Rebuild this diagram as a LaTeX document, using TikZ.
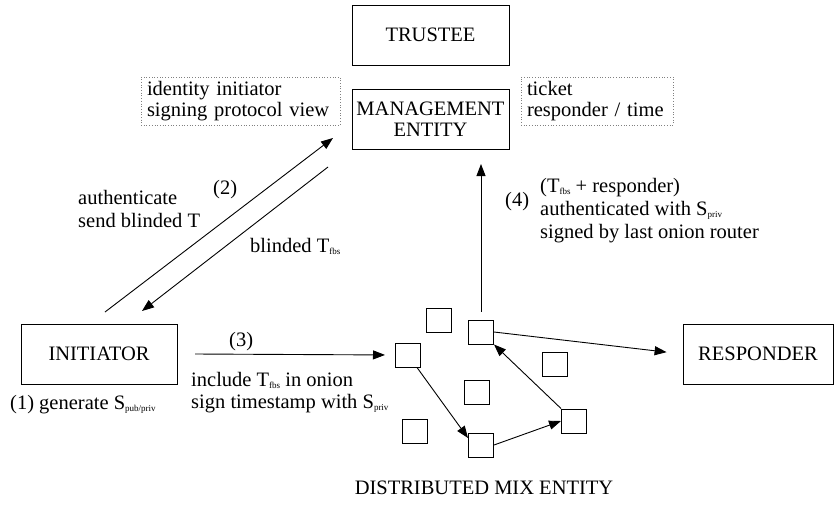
\documentclass[tikz,border=0pt]{standalone}
\usepackage{fontspec}
\setmainfont{Liberation Serif}
\usetikzlibrary{arrows.meta}
\newcommand\sbx[1]{\raisebox{-2.5pt}{\fontsize{9}{9}\selectfont #1}}
\begin{document}
\begin{tikzpicture}[x=1pt,y=-1pt,
  every node/.style={font=\fontsize{20.5}{20.5}\selectfont, inner sep=0pt},
  box/.style={draw, line width=1pt, minimum width=157pt, minimum height=60pt, align=center},
  note/.style={draw=gray, dotted, line width=0.7pt, text=black, align=left, minimum height=48pt, inner xsep=6pt},
  mix/.style={draw, line width=1pt, minimum width=25pt, minimum height=24pt},
  arr/.style={line width=0.9pt, -{Triangle[length=12pt,width=9pt]}},
  lbl/.style={anchor=base west}
]
\useasboundingbox (0,0) rectangle (835,504);

% main boxes
\node[box] (trustee) at (430.5,35) {TRUSTEE};
\node[box] (mgmt) at (430.5,119) {MANAGEMENT\\ENTITY};
\node[box, minimum width=156pt] (init) at (99,354) {INITIATOR};
\node[box, minimum width=150pt] (resp) at (758,354) {RESPONDER};

% notes
\node[note, text width=187pt] (noteL) at (240.5,101) {identity initiator\\signing protocol view};
\node[note, text width=140pt] (noteR) at (597,101) {ticket\\responder / time};

% mix entity
\node[mix] (mA) at (408,355) {};
\node[mix] (mB) at (438.5,320) {};
\node[mix] (mC) at (481,332) {};
\node[mix] (mD) at (554.5,364) {};
\node[mix] (mE) at (476.5,392) {};
\node[mix] (mF) at (574,421) {};
\node[mix] (mG) at (414.5,431) {};
\node[mix] (mH) at (481,445) {};
\node (mixlbl) at (484,488) {DISTRIBUTED MIX ENTITY};

% connector end points
\coordinate (a2s) at (105,312);
\coordinate (a2e) at (333,138);
\coordinate (b2s) at (328,167);
\coordinate (b2e) at (142,311);
\coordinate (a3s) at (195,354);
\coordinate (a4e) at (481,164);

% connectors
\draw[arr] (a2s) -- (a2e);
\draw[arr] (b2s) -- (b2e);
\draw[arr, shorten >=10pt] (a3s) -- (mA.west);
\draw[arr, shorten <=8pt] (mC.north) -- (a4e);
\draw[arr, shorten >=16pt] (mC.east) -- (resp.west);
\draw[arr] (mA.south east) ++(-4,0) coordinate (aHs) -- (mH.west |- 0,438) coordinate (aHe);
\draw[arr] (mH.east) -- (mF.west);
\draw[arr] (mF.north west) -- (mC.south east);

% labels
\node[lbl] (l2) at (213,194) {(2)};
\node[lbl] (lauth) at (78,204) {authenticate};
\node[lbl] (lsend) at (78,227) {send blinded T};
\node[lbl] (lblind) at (250,252) {blinded T\sbx{fbs}};
\node[lbl] (l3) at (229,346) {(3)};
\node[lbl] (lincl) at (191,386) {include T\sbx{fbs} in onion};
\node[lbl] (lsign) at (191,408) {sign timestamp with S\sbx{priv}};
\node[lbl] (l1) at (10,409) {(1) generate S\sbx{pub/priv}};
\node[lbl] (l4) at (505,206) {(4)};
\node[lbl] (ltf) at (540,192) {(T\sbx{fbs} + responder)};
\node[lbl] (lauw) at (540,215) {authenticated with S\sbx{priv}};
\node[lbl] (lsig) at (540,238) {signed by last onion router};
\end{tikzpicture}
\end{document}
